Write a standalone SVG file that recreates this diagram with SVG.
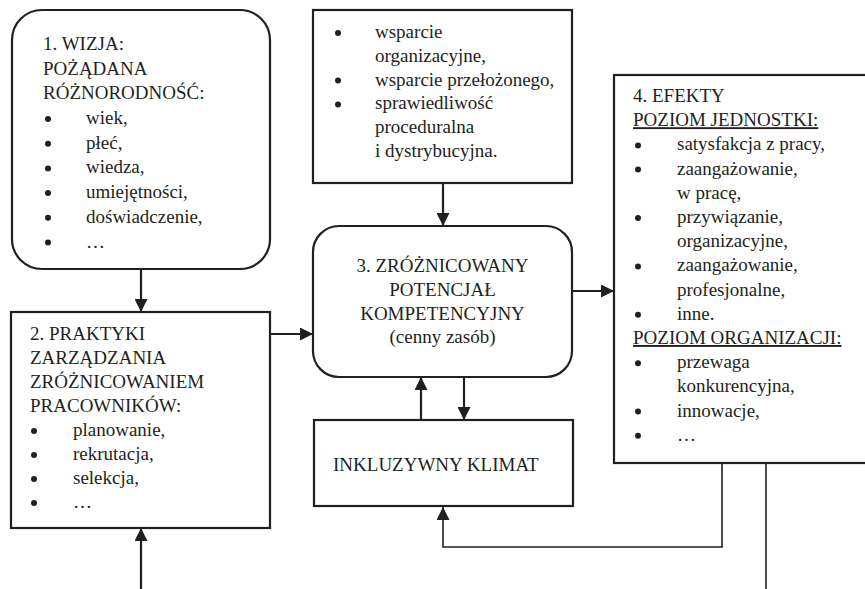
<svg xmlns="http://www.w3.org/2000/svg" width="865" height="589" viewBox="0 0 865 589">
  <style>
    .box { fill: #ffffff; stroke: #231f20; stroke-width: 2.2; }
    .t { font-family: "Liberation Serif", "Times New Roman", serif; font-size: 19px; fill: #231f20; }
    .c { text-anchor: middle; }
    .u { text-decoration: underline; }
    .dot { fill: #231f20; }
    .link { fill: none; stroke: #231f20; stroke-width: 2.2; }
    .thin { fill: none; stroke: #231f20; stroke-width: 1.6; }
  </style>
  <defs>
    <marker id="arrow" markerUnits="userSpaceOnUse" markerWidth="13" markerHeight="13" refX="13" refY="6.5" orient="auto">
      <path d="M0,0 L13,6.5 L0,13 z" fill="#231f20"/>
    </marker>
  </defs>

  <rect width="865" height="589" fill="#ffffff"/>

  <!-- connectors -->
  <g id="connectors">
    <line class="link" x1="141" y1="269" x2="141" y2="312" marker-end="url(#arrow)"/>
    <line class="link" x1="141" y1="589" x2="141" y2="528" marker-end="url(#arrow)"/>
    <line class="link" x1="270" y1="334" x2="313" y2="334" marker-end="url(#arrow)"/>
    <line class="link" x1="443" y1="183" x2="443" y2="226" marker-end="url(#arrow)"/>
    <line class="link" x1="572" y1="291" x2="614" y2="291" marker-end="url(#arrow)"/>
    <line class="link" x1="421" y1="420" x2="421" y2="377" marker-end="url(#arrow)"/>
    <line class="link" x1="464" y1="377" x2="464" y2="420" marker-end="url(#arrow)"/>
    <polyline class="thin" points="722,463 722,547 443,547 443,507" marker-end="url(#arrow)"/>
    <line class="thin" x1="766" y1="463" x2="766" y2="589"/>
  </g>

  <!-- 1. vision -->
  <g id="node-wizja">
    <rect class="box" x="12" y="10" width="258" height="259" rx="30" ry="30"/>
    <text class="t" x="43" y="50">1. WIZJA:</text>
    <text class="t" x="43" y="74.7">POŻĄDANA</text>
    <text class="t" x="43" y="99.4">RÓŻNORODNOŚĆ:</text>
    <circle class="dot" cx="48" cy="119" r="3"/>
    <text class="t" x="86" y="124">wiek,</text>
    <circle class="dot" cx="48" cy="143.7" r="3"/>
    <text class="t" x="86" y="148.7">płeć,</text>
    <circle class="dot" cx="48" cy="168.4" r="3"/>
    <text class="t" x="86" y="173.4">wiedza,</text>
    <circle class="dot" cx="48" cy="193.1" r="3"/>
    <text class="t" x="86" y="198.1">umiejętności,</text>
    <circle class="dot" cx="48" cy="217.8" r="3"/>
    <text class="t" x="86" y="222.8">doświadczenie,</text>
    <circle class="dot" cx="48" cy="242.5" r="3"/>
    <text class="t" x="86" y="247.5">…</text>
  </g>

  <!-- 2. management practices -->
  <g id="node-praktyki">
    <rect class="box" x="11" y="312" width="259" height="216"/>
    <text class="t" x="30" y="340">2. PRAKTYKI</text>
    <text class="t" x="30" y="364">ZARZĄDZANIA</text>
    <text class="t" x="30" y="388">ZRÓŻNICOWANIEM</text>
    <text class="t" x="30" y="412">PRACOWNIKÓW:</text>
    <circle class="dot" cx="34" cy="431" r="3"/>
    <text class="t" x="73" y="436">planowanie,</text>
    <circle class="dot" cx="34" cy="455" r="3"/>
    <text class="t" x="73" y="460">rekrutacja,</text>
    <circle class="dot" cx="34" cy="479" r="3"/>
    <text class="t" x="73" y="484">selekcja,</text>
    <circle class="dot" cx="34" cy="503" r="3"/>
    <text class="t" x="73" y="508">…</text>
  </g>

  <!-- support box -->
  <g id="node-wsparcie">
    <rect class="box" x="313" y="10" width="259" height="173"/>
    <circle class="dot" cx="338" cy="33" r="3"/>
    <text class="t" x="375" y="38">wsparcie</text>
    <text class="t" x="375" y="61.8">organizacyjne,</text>
    <circle class="dot" cx="338" cy="80.6" r="3"/>
    <text class="t" x="375" y="85.6">wsparcie przełożonego,</text>
    <circle class="dot" cx="338" cy="104.4" r="3"/>
    <text class="t" x="375" y="109.4">sprawiedliwość</text>
    <text class="t" x="375" y="133.2">proceduralna</text>
    <text class="t" x="375" y="157">i dystrybucyjna.</text>
  </g>

  <!-- 3. competence potential -->
  <g id="node-potencjal">
    <rect class="box" x="313" y="226" width="259" height="151" rx="26" ry="26"/>
    <text class="t c" x="442.5" y="272">3. ZRÓŻNICOWANY</text>
    <text class="t c" x="442.5" y="295.8">POTENCJAŁ</text>
    <text class="t c" x="442.5" y="319.6">KOMPETENCYJNY</text>
    <text class="t c" x="442.5" y="343.4">(cenny zasób)</text>
  </g>

  <!-- inclusive climate -->
  <g id="node-klimat">
    <rect class="box" x="314" y="420" width="259" height="86"/>
    <text class="t" x="333" y="471">INKLUZYWNY KLIMAT</text>
  </g>

  <!-- 4. effects -->
  <g id="node-efekty">
    <rect class="box" x="614" y="75" width="270" height="388"/>
    <text class="t" x="633" y="102">4. EFEKTY</text>
    <text class="t u" x="633" y="126.2">POZIOM JEDNOSTKI:</text>
    <circle class="dot" cx="638" cy="145.4" r="3"/>
    <text class="t" x="677" y="150.4">satysfakcja z pracy,</text>
    <circle class="dot" cx="638" cy="169.6" r="3"/>
    <text class="t" x="677" y="174.6">zaangażowanie,</text>
    <text class="t" x="677" y="198.8">w pracę,</text>
    <circle class="dot" cx="638" cy="218" r="3"/>
    <text class="t" x="677" y="223">przywiązanie,</text>
    <text class="t" x="677" y="247.2">organizacyjne,</text>
    <circle class="dot" cx="638" cy="266.4" r="3"/>
    <text class="t" x="677" y="271.4">zaangażowanie,</text>
    <text class="t" x="677" y="295.6">profesjonalne,</text>
    <circle class="dot" cx="638" cy="314.8" r="3"/>
    <text class="t" x="677" y="319.8">inne.</text>
    <text class="t u" x="633" y="344">POZIOM ORGANIZACJI:</text>
    <circle class="dot" cx="638" cy="363.2" r="3"/>
    <text class="t" x="677" y="368.2">przewaga</text>
    <text class="t" x="677" y="392.4">konkurencyjna,</text>
    <circle class="dot" cx="638" cy="411.6" r="3"/>
    <text class="t" x="677" y="416.6">innowacje,</text>
    <circle class="dot" cx="638" cy="435.8" r="3"/>
    <text class="t" x="677" y="440.8">…</text>
  </g>
</svg>
